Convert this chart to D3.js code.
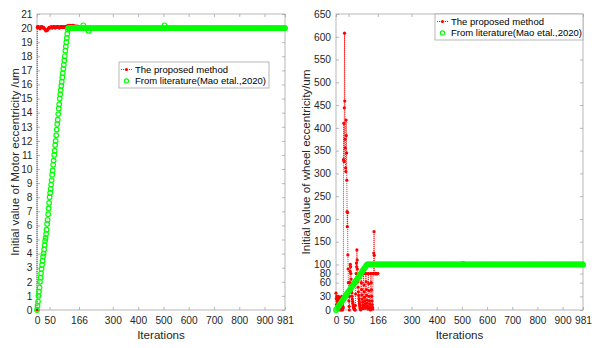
<!DOCTYPE html>
<html><head><meta charset="utf-8">
<script src="https://cdn.jsdelivr.net/npm/d3@7"></script>
<style>
body{margin:0;background:#fff}
svg{display:block}
text{font-family:"Liberation Sans",Arial,Helvetica,sans-serif}
</style>
</head><body>
<svg id="c" width="600" height="348"></svg>
<script>
// ---------- data ----------
const xTicks = [0,50,166,300,400,500,600,700,800,900,981];
const motorYTicks = [0,1,2,3,4,5,6,7,8,9,10,11,12,13,14,15,16,17,18,19,20,21];
const wheelYTicks = [0,30,60,80,100,150,200,250,300,350,400,450,500,550,600,650];
const seriesNames = ["The proposed method","From literature(Mao etal.,2020)"];

// Motor eccentricity, proposed method: [iteration, value]
const motorProposed = [[0,0],[1,20.05],[2,20.1],[4,20.05],[6,20.1],[8,20.05],[10,20.0],[12,19.95],[14,20.05],[16,20.1],[18,20.05],[20,20.1],[22,20.05],[24,20.0],[26,20.05],[28,20.0],[30,19.95],[32,19.9],[34,19.85],[36,19.8],[38,19.85],[40,19.9],[42,19.85],[44,19.95],[46,20.0],[48,20.05],[50,20.05],[52,20.0],[54,20.05],[56,20.1],[58,20.05],[60,20.0],[62,20.05],[64,20.1],[66,20.05],[68,20.1],[70,20.05],[72,20.0],[74,20.05],[76,20.1],[78,20.05],[80,20.1],[82,20.05],[84,20.1],[86,20.05],[88,20.0],[90,20.05],[92,20.1],[94,20.05],[96,20.1],[98,20.1],[100,20.05],[102,20.1],[104,20.05],[106,20.1],[108,20.05],[110,20.1],[112,20.05],[114,20.1],[116,20.1],[118,20.15],[120,20.1],[122,20.15],[124,20.2],[126,20.15],[128,20.1],[130,20.15],[132,20.2],[134,20.15],[136,20.1],[138,20.15],[140,20.2],[142,20.15],[144,20.2],[146,20.15],[148,20.1],[150,20.15],[152,20.1],[154,20.15],[156,20.1],[158,20.1],[160,20.15],[162,20.1],[164,20.05],[166,20.1]];

// Motor eccentricity, literature: [iteration, value]
const motorLiterature = [[0,0],[2,0.3],[4,0.6],[6,1.0],[8,1.3],[10,1.6],[12,2.0],[14,2.3],[16,2.6],[18,2.9],[20,3.2],[22,3.5],[24,3.8],[26,4.0],[28,4.3],[30,4.6],[32,4.9],[34,5.1],[36,5.4],[38,5.7],[40,6.1],[42,6.4],[44,6.8],[46,7.2],[48,7.6],[50,8.0],[52,8.3],[54,8.6],[56,8.9],[58,9.2],[60,9.6],[62,9.9],[64,10.3],[66,10.6],[68,11.0],[70,11.3],[72,11.7],[74,12.0],[76,12.4],[78,12.8],[80,13.2],[82,13.5],[84,13.9],[86,14.3],[88,14.6],[90,15.0],[92,15.3],[94,15.6],[96,15.9],[98,16.2],[100,16.5],[102,16.8],[104,17.1],[106,17.4],[108,17.7],[110,18.0],[112,18.4],[114,18.7],[116,19.0],[118,19.3],[120,19.6],[122,19.9],[124,20.0],[127,20],
[130,20],[135,20],[140,20],[145,20],[150,20],[155,20],[160,20],[165,20],[170,20],[175,20],[180,20],[183,20.2],[185,20],[190,20],[195,20],[200,20],[204,19.8],[205,20],[210,20],[215,20],[220,20],[225,20],[230,20],[235,20],[240,20],[245,20],[250,20],[255,20],[260,20],[265,20],[270,20],[275,20],[280,20],[285,20],[290,20],[295,20],[300,20],[305,20],[310,20],[315,20],[320,20],[325,20],[330,20],[335,20],[340,20],[345,20],[350,20],[355,20],[360,20],[365,20],[370,20],[375,20],[380,20],[385,20],[390,20],[395,20],[400,20],[405,20],[410,20],[415,20],[420,20],[425,20],[430,20],[435,20],[440,20],[445,20],[450,20],[455,20],[460,20],[465,20],[470,20],[475,20],[480,20],[485,20],[490,20],[495,20],[500,20],[504,20.2],[505,20],[510,20],[515,20],[520,20],[525,20],[530,20],[535,20],[540,20],[545,20],[550,20],[555,20],[560,20],[565,20],[570,20],[575,20],[580,20],[585,20],[590,20],[595,20],[600,20],[605,20],[610,20],[615,20],[620,20],[625,20],[630,20],[635,20],[640,20],[645,20],[650,20],[655,20],[660,20],[665,20],[670,20],[675,20],[680,20],[685,20],[690,20],[695,20],[700,20],[705,20],[710,20],[715,20],[720,20],[725,20],[730,20],[735,20],[740,20],[745,20],[750,20],[755,20],[760,20],[765,20],[770,20],[775,20],[780,20],[785,20],[790,20],[795,20],[800,20],[805,20],[810,20],[815,20],[820,20],[825,20],[830,20],[835,20],[840,20],[845,20],[850,20],[855,20],[860,20],[865,20],[870,20],[875,20],[880,20],[885,20],[890,20],[895,20],[900,20],[905,20],[910,20],[915,20],[920,20],[925,20],[930,20],[935,20],[940,20],[945,20],[950,20],[955,20],[960,20],[965,20],[970,20],[975,20],[980,20],[981,20]];

// Wheel eccentricity, proposed method: value per iteration 0..166
const wheelProposed = [37,25,12,30,20,8,28,15,3,22,30,10,2,18,25,5,0,12,28,20,6,0,15,30,10,2,0,8,20,5,
330,410,326,444,608,459,375,356,312,304,417,383,345,285,216,183,214,121,90,60,40,20,8,0,
30,60,85,100,95,80,68,
56,46,38,30,24,19,15,11,8,6,4,3,2,1,0,0,10,35,60,80,
103,95,132,110,90,75,62,50,40,32,
25,19,14,10,7,4,2,0,80,80,60,45,33,24,17,
11,6,3,80,80,55,40,28,20,13,8,4,80,80,62,
45,32,22,15,9,5,2,80,80,58,42,30,20,13,7,3,0,80,80,60,
44,30,20,12,6,2,80,80,80,125,172,120,80,80,80,80,80,80,80,80,80,80,80,80,80,80];

// Wheel eccentricity, literature: [iteration, value]
const wheelLiterature = [[0,0],[4,3],[8,6.5],[12,10],[16,13],[20,16],[24,19.5],[28,23],[32,26],[36,29],[40,32.5],[44,36],[48,39],[52,42],[56,45.5],[60,49],[64,52],[68,55],[72,58.5],[76,62],[80,65],[84,68],[88,71.5],[92,75],[96,78],[100,81],[104,84.5],[108,88],[112,91],[116,94],[120,97.5],[124,100],[127,100],
[130,100],[135,100],[140,100],[145,100],[150,100],[155,100],[160,100],[165,100],[170,100],[175,100],[180,100],[185,100],[190,100],[195,100],[200,100],[205,100],[210,100],[215,100],[220,100],[225,100],[230,100],[235,100],[240,100],[245,100],[250,100],[255,100],[260,100],[265,100],[270,100],[275,100],[280,100],[285,100],[290,100],[295,100],[300,100],[305,100],[310,100],[315,100],[320,100],[325,100],[330,100],[335,100],[340,100],[345,100],[350,100],[355,100],[360,100],[365,100],[370,100],[375,100],[380,100],[385,100],[390,100],[395,100],[400,100],[405,100],[410,100],[415,100],[420,100],[425,100],[430,100],[435,100],[440,100],[445,100],[450,100],[455,100],[460,100],[465,100],[470,100],[475,100],[480,100],[485,100],[490,100],[495,100],[500,100],[504,101.5],[505,100],[510,100],[515,100],[520,100],[525,100],[530,100],[535,100],[540,100],[545,100],[550,100],[555,100],[560,100],[565,100],[570,100],[575,100],[580,100],[585,100],[590,100],[595,100],[600,100],[605,100],[610,100],[615,100],[620,100],[625,100],[630,100],[635,100],[640,100],[645,100],[650,100],[655,100],[660,100],[665,100],[670,100],[675,100],[680,100],[685,100],[690,100],[695,100],[700,100],[705,100],[710,100],[715,100],[720,100],[725,100],[730,100],[735,100],[740,100],[745,100],[750,100],[755,100],[760,100],[765,100],[770,100],[775,100],[780,100],[785,100],[790,100],[795,100],[800,100],[805,100],[810,100],[815,100],[820,100],[825,100],[830,100],[835,100],[840,100],[845,100],[850,100],[855,100],[860,100],[865,100],[870,100],[875,100],[880,100],[885,100],[890,100],[895,100],[900,100],[905,100],[910,100],[915,100],[920,100],[925,100],[930,100],[935,100],[940,100],[945,100],[950,100],[955,100],[960,100],[965,100],[970,100],[975,100],[980,100],[981,100]];

// ---------- drawing ----------
const svg = d3.select("#c");
const RED = "#ff0000", GREEN = "#00ff00", AXC = "#a6a6a6", TXT = "#262626";

function panel(o){
  const x = d3.scaleLinear().domain([0,981]).range([o.x0,o.x1]);
  const y = d3.scaleLinear().domain(o.yDomain).range([310,14]);
  const g = svg.append("g");
  g.append("rect").attr("x",o.x0).attr("y",14).attr("width",o.x1-o.x0).attr("height",296)
    .attr("fill","#fff").attr("stroke",AXC).attr("stroke-width",0.8);
  const styleAxis = sel => {
    sel.select(".domain").remove();
    sel.selectAll(".tick line").attr("stroke",AXC).attr("stroke-width",0.8);
    sel.selectAll(".tick text").attr("fill",TXT).style("font-size","10.2px")
      .style("font-family","'Liberation Sans',Arial,sans-serif");
  };
  g.append("g").attr("transform",`translate(0,310)`)
    .call(d3.axisBottom(x).tickValues(xTicks).tickFormat(d3.format("d")).tickSizeInner(-3).tickSizeOuter(0).tickPadding(7))
    .call(styleAxis);
  g.append("g").attr("transform",`translate(0,14)`)
    .call(d3.axisTop(x).tickValues(xTicks).tickFormat("").tickSizeInner(-3).tickSizeOuter(0))
    .call(styleAxis);
  g.append("g").attr("transform",`translate(${o.x0},0)`)
    .call(d3.axisLeft(y).tickValues(o.yTicks).tickFormat(d3.format("d")).tickSizeInner(-3).tickSizeOuter(0).tickPadding(o.yPad))
    .call(styleAxis);
  g.append("g").attr("transform",`translate(${o.x1},0)`)
    .call(d3.axisRight(y).tickValues(o.yTicks).tickFormat("").tickSizeInner(-3).tickSizeOuter(0))
    .call(styleAxis);

  const line = d3.line().x(d=>x(d[0])).y(d=>y(d[1]));
  g.append("path").datum(o.red).attr("d",line).attr("fill","none")
    .attr("stroke",RED).attr("stroke-width",0.9).attr("stroke-dasharray","1,1");
  g.append("g").selectAll("circle").data(o.red).join("circle")
    .attr("cx",d=>x(d[0])).attr("cy",d=>y(d[1])).attr("r",1.6).attr("fill",RED);
  g.append("g").selectAll("circle").data(o.green).join("circle")
    .attr("cx",d=>x(d[0])).attr("cy",d=>y(d[1])).attr("r",2.3)
    .attr("fill","none").attr("stroke",GREEN).attr("stroke-width",1.2);

  g.append("text").attr("x",(o.x0+o.x1)/2).attr("y",339).attr("text-anchor","middle")
    .attr("fill",TXT).style("font-size","11.6px").text("Iterations");
  g.append("text").attr("transform",`translate(${o.ylx},162) rotate(-90)`)
    .attr("text-anchor","middle").attr("dy","0.35em").attr("fill",TXT)
    .style("font-size","11.6px").text(o.yLabel);

  const L = o.legend;
  g.append("rect").attr("x",L.x).attr("y",L.y).attr("width",L.w).attr("height",26)
    .attr("fill","#fff").attr("stroke",AXC).attr("stroke-width",0.8);
  const r1 = L.y+7.5, r2 = L.y+19;
  g.append("line").attr("x1",L.x+2).attr("x2",L.x+13).attr("y1",r1).attr("y2",r1)
    .attr("stroke",RED).attr("stroke-width",0.9).attr("stroke-dasharray","1,1");
  g.append("circle").attr("cx",L.x+7.5).attr("cy",r1).attr("r",1.6).attr("fill",RED);
  g.append("circle").attr("cx",L.x+7.5).attr("cy",r2).attr("r",2.1)
    .attr("fill","none").attr("stroke",GREEN).attr("stroke-width",1.1);
  g.selectAll("text.lg").data(seriesNames).join("text").attr("class","lg")
    .attr("x",L.x+16).attr("y",(d,i)=>i?r2:r1).attr("dy","0.35em")
    .attr("fill","#000").style("font-size","9.5px").text(d=>d);
}

panel({x0:37,x1:285,yDomain:[0,21],yTicks:motorYTicks,yPad:4.5,ylx:15,
  yLabel:"Initial value of Motor eccentricity /um",
  red:motorProposed,green:motorLiterature,
  legend:{x:119,y:62,w:150}});

panel({x0:336,x1:583,yDomain:[0,650],yTicks:wheelYTicks,yPad:5,ylx:306,
  yLabel:"Initial value of wheel eccentricity/um",
  red:wheelProposed.map((v,i)=>[i,v]),green:wheelLiterature,
  legend:{x:435,y:14,w:148}});
</script>
</body></html>
